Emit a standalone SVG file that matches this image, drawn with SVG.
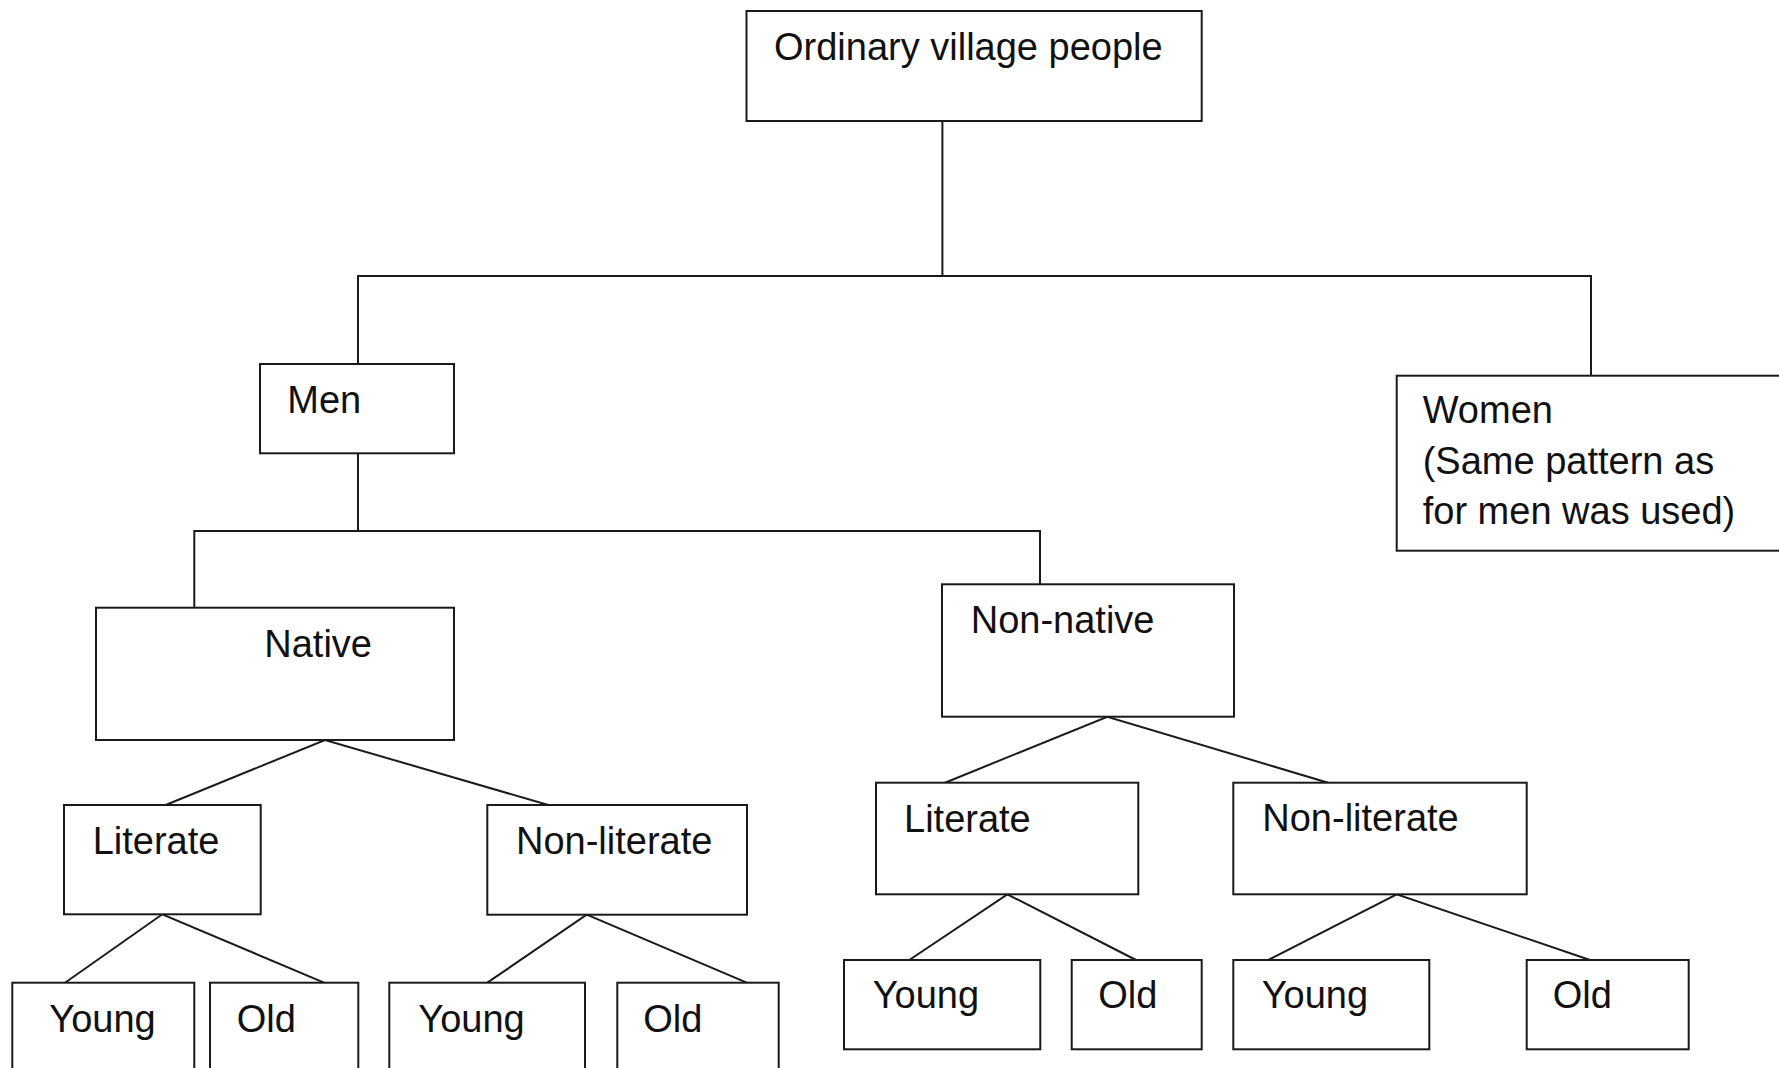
<svg xmlns="http://www.w3.org/2000/svg" width="1779" height="1068" viewBox="0 0 1779 1068">
<style>
.box{fill:#fff;stroke:#1a1a1a;stroke-width:2}
.c{fill:none;stroke:#1a1a1a;stroke-width:2}
text{font-family:"Liberation Sans",Arial,sans-serif;font-size:38px;fill:#111}
</style>
<rect width="1779" height="1068" fill="#fff"/>
<g id="connectors">
<polyline class="c" points="942.4,121 942.4,276"/>
<polyline class="c" points="358,364 358,276 1591,276 1591,375.7"/>
<polyline class="c" points="194.3,607.7 194.3,531 1040,531 1040,584.3"/>
<line class="c" x1="358" y1="453.3" x2="358" y2="531"/>
<polyline class="c" points="165.7,805 325,740 548.3,805"/>
<polyline class="c" points="65,982.7 162.3,914.3 324,982.7"/>
<polyline class="c" points="487.3,982.7 586.7,914.7 746.7,982.7"/>
<polyline class="c" points="945,782.7 1107.3,716.7 1328,782.7"/>
<polyline class="c" points="909.3,960 1007.3,894.3 1136,960"/>
<polyline class="c" points="1268.3,960 1396.7,894.3 1590,960"/>
</g>
<g id="n-root"><rect class="box" x="746.5" y="11" width="455.2" height="110"/><text x="774" y="60">Ordinary village people</text></g>
<g id="n-men"><rect class="box" x="260" y="364" width="194" height="89.3"/><text x="287.3" y="413.3">Men</text></g>
<g id="n-women"><rect class="box" x="1396.7" y="375.7" width="400" height="175"/>
<text x="1422.7" y="423.3">Women</text><text x="1422.7" y="473.8">(Same pattern as</text><text x="1422.7" y="524.3">for men was used)</text></g>
<g id="n-native"><rect class="box" x="96" y="607.7" width="358" height="132.3"/><text x="264.3" y="656.7">Native</text></g>
<g id="n-nonnative"><rect class="box" x="942" y="584.3" width="292" height="132.4"/><text x="970.7" y="633.3">Non-native</text></g>
<g id="n-lit1"><rect class="box" x="64" y="805" width="196.7" height="109.3"/><text x="92.7" y="854.3">Literate</text></g>
<g id="n-nonlit1"><rect class="box" x="487.3" y="805" width="259.7" height="109.7"/><text x="516" y="854">Non-literate</text></g>
<g id="n-lit2"><rect class="box" x="876" y="782.7" width="262.3" height="111.6"/><text x="904" y="831.7">Literate</text></g>
<g id="n-nonlit2"><rect class="box" x="1233.3" y="782.7" width="293.4" height="111.6"/><text x="1262.3" y="830.7">Non-literate</text></g>
<g id="n-young1"><rect class="box" x="12.3" y="982.7" width="182" height="110"/><text x="49.3" y="1031.7">Young</text></g>
<g id="n-old1"><rect class="box" x="210" y="982.7" width="148.3" height="110"/><text x="236.7" y="1031.7">Old</text></g>
<g id="n-young2"><rect class="box" x="389.3" y="982.7" width="195.7" height="110"/><text x="418.3" y="1031.7">Young</text></g>
<g id="n-old2"><rect class="box" x="617.3" y="982.7" width="161.4" height="110"/><text x="643.3" y="1031.7">Old</text></g>
<g id="n-young3"><rect class="box" x="844" y="960" width="196.3" height="89.3"/><text x="872.7" y="1008.3">Young</text></g>
<g id="n-old3"><rect class="box" x="1071.7" y="960" width="130" height="89.3"/><text x="1098.3" y="1008.3">Old</text></g>
<g id="n-young4"><rect class="box" x="1233.3" y="960" width="196" height="89.3"/><text x="1261.7" y="1008.3">Young</text></g>
<g id="n-old4"><rect class="box" x="1526.7" y="960" width="162" height="89.3"/><text x="1552.7" y="1008.3">Old</text></g>
</svg>
